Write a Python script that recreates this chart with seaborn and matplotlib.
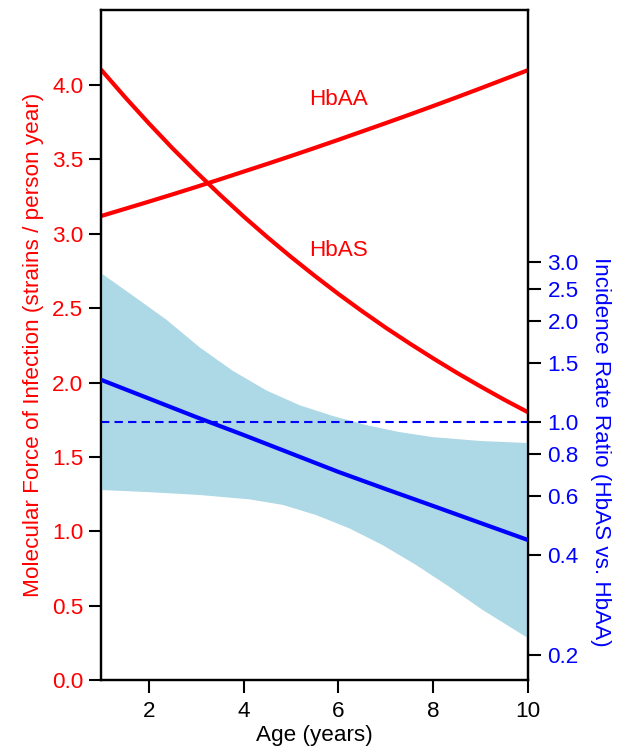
import numpy as np
import pandas as pd
import matplotlib
matplotlib.use("Agg")
import matplotlib.pyplot as plt
import matplotlib.ticker as mticker
import seaborn as sns

# ---- data ----
age = [1, 1.5, 2, 2.5, 3, 3.5, 4, 4.5, 5, 5.5, 6, 6.5, 7, 7.5, 8, 8.5, 9, 9.5, 10]
hbaa = [3.120, 3.168, 3.216, 3.265, 3.315, 3.366, 3.418, 3.470, 3.523, 3.577,
        3.632, 3.688, 3.744, 3.801, 3.859, 3.918, 3.978, 4.039, 4.100]
hbas = [4.100, 3.917, 3.742, 3.574, 3.415, 3.262, 3.116, 2.977, 2.844, 2.717,
        2.595, 2.479, 2.368, 2.263, 2.162, 2.065, 1.973, 1.884, 1.800]

age_irr = [1, 2, 3, 4, 5, 6, 7, 8, 9, 10]
irr = [1.333, 1.173, 1.032, 0.912, 0.803, 0.707, 0.628, 0.559, 0.497, 0.442]

age_upper = [1.0, 1.67, 2.37, 3.07, 3.77, 4.48, 5.18, 5.88, 6.58, 7.28, 7.98, 9.0, 10.0]
irr_upper = [2.78, 2.38, 2.02, 1.67, 1.42, 1.24, 1.12, 1.04, 0.977, 0.931, 0.899, 0.875, 0.863]
age_lower = [1.0, 2.0, 3.07, 4.13, 4.83, 5.53, 6.23, 6.93, 7.64, 8.34, 9.04, 9.95, 10.0]
irr_lower = [0.624, 0.615, 0.603, 0.585, 0.563, 0.525, 0.479, 0.427, 0.372, 0.320, 0.273, 0.227, 0.226]

left_ticks = [0.0, 0.5, 1.0, 1.5, 2.0, 2.5, 3.0, 3.5, 4.0]
right_ticks = [0.2, 0.4, 0.6, 0.8, 1.0, 1.5, 2.0, 2.5, 3.0]
x_ticks = [2, 4, 6, 8, 10]

sns.set_style("ticks")
plt.rcParams['font.family'] = ['Liberation Sans', 'DejaVu Sans']

RED = "#FF0000"
BLUE = "#0000FF"
BAND = "#ADD8E6"
FS = 16.2

fig = plt.figure(figsize=(6.17, 7.49), dpi=100)
ax = fig.add_axes([0.1645, 0.0921, 0.8558 - 0.1645, 0.9866 - 0.0921])
ax2 = ax.twinx()

# red curves on the left axis
df_red = pd.DataFrame({
    "age": age * 2,
    "mfoi": hbaa + hbas,
    "group": ["HbAA"] * len(age) + ["HbAS"] * len(age),
})
sns.lineplot(data=df_red, x="age", y="mfoi", hue="group",
             palette={"HbAA": RED, "HbAS": RED}, linewidth=3.0,
             legend=False, ax=ax)
ax.set_xlim(1, 10)
ax.set_ylim(0, 4.504)

# IRR on the right (log) axis
ax2.set_yscale("log")
band_x = list(age_upper) + list(age_lower[::-1])
band_y = list(irr_upper) + list(irr_lower[::-1])
ax2.fill(band_x, band_y, color=BAND, linewidth=0, zorder=1)
ax2.axhline(1.0, color=BLUE, linestyle=(0, (4, 2.5)), linewidth=1.5, zorder=2)
df_irr = pd.DataFrame({"age": age_irr, "irr": irr})
sns.lineplot(data=df_irr, x="age", y="irr", color=BLUE, linewidth=3.0,
             ax=ax2, zorder=3)
ax2.set_ylim(0.1683, 17.1)
ax2.set_xlim(1, 10)

# ticks
ax.set_xticks(x_ticks)
ax.set_xticklabels([str(t) for t in x_ticks])
ax.set_yticks(left_ticks)
ax.set_yticklabels([f"{t:.1f}" for t in left_ticks])
ax2.yaxis.set_major_locator(mticker.FixedLocator(right_ticks))
ax2.yaxis.set_minor_locator(mticker.NullLocator())
ax2.yaxis.set_major_formatter(mticker.FixedFormatter([f"{t:.1f}" for t in right_ticks]))

ax.tick_params(axis="x", direction="out", length=9, width=1.5, colors="black",
               labelsize=FS, pad=6)
ax.tick_params(axis="y", direction="out", length=9, width=1.5, color="black",
               labelcolor=RED, labelsize=FS, pad=4)
ax2.tick_params(axis="y", direction="out", length=9, width=1.5, color="black",
                labelcolor=BLUE, labelsize=FS, pad=5)

for a in (ax, ax2):
    for s in a.spines.values():
        s.set_color("black")
        s.set_linewidth(1.6)

# labels
ax.set_xlabel("Age (years)", fontsize=FS, color="black", labelpad=2)
ax.set_ylabel("Molecular Force of Infection (strains / person year)",
              fontsize=FS, color=RED)
ax.yaxis.set_label_coords(-0.135, 0.5)
ax2.set_ylabel("")
fig.text(600 / 617, 1 - 452 / 749, "Incidence Rate Ratio (HbAS vs. HbAA)",
         rotation=-90, color=BLUE, fontsize=FS, ha="center", va="center")

ax.text(6.0, 3.90, "HbAA", color=RED, fontsize=FS, ha="center", va="center")
ax.text(6.0, 2.89, "HbAS", color=RED, fontsize=FS, ha="center", va="center")

fig.savefig("out.png", dpi=100)
